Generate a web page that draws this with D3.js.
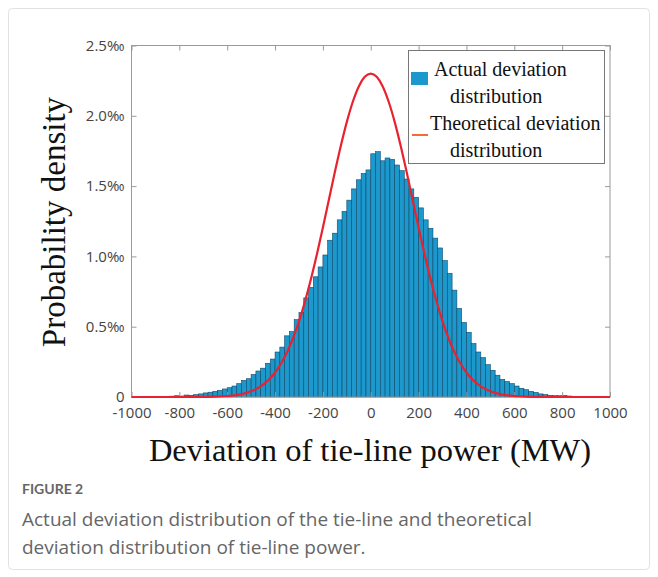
<!DOCTYPE html>
<html>

<head>
  <meta charset="utf-8">
  <title>Tie-line deviation</title>
  <script src="https://d3js.org/d3.v7.min.js"></script>
  <style>
    body { margin: 0; background: #fff; }
  </style>
</head>

<body>
  <div id='view'></div>
  <script>
    // histogram: bins of 20 MW, left edge -880 ... 860
    var binWidth = 20;
    var binStart = d3.range(-880, 880, binWidth);
    // density per bin in per-mille
    var density = [
      0.003, 0.004, 0.006, 0.009, 0.007, 0.014, 0.012, 0.017, 0.022, 0.029,
      0.034, 0.040, 0.047, 0.057, 0.066, 0.078, 0.095, 0.118, 0.130, 0.160,
      0.185, 0.205, 0.240, 0.270, 0.320, 0.355, 0.435, 0.465, 0.550, 0.600,
      0.705, 0.780, 0.855, 0.925, 1.010, 1.115, 1.165, 1.260, 1.320, 1.400,
      1.480, 1.545, 1.590, 1.615,
      1.730, 1.745, 1.680, 1.700, 1.690, 1.650, 1.610, 1.550, 1.480, 1.420,
      1.345, 1.260, 1.200, 1.130, 1.060, 0.970, 0.880, 0.760, 0.630, 0.530,
      0.460, 0.380, 0.320, 0.280, 0.230, 0.190, 0.155, 0.125, 0.110, 0.095,
      0.078, 0.062, 0.052, 0.040, 0.033, 0.022, 0.017, 0.012, 0.010, 0.009,
      0.011, 0.007, 0.005, 0.003
    ];

    // theoretical curve
    var theoX = [-1000, -750, -700, -650, -600, -550, -500, -475, -450, -425, -400, -375, -350, -325, -300,
      -275, -250, -225, -200, -175, -150, -125, -100, -75, -50, -25, 0,
      25, 50, 75, 100, 125, 150, 175, 200, 225, 250, 275, 300, 325, 350, 375, 400,
      425, 450, 475, 500, 550, 600, 650, 700, 750, 1000];
    var theoY = [0, 0, 0.001, 0.0025, 0.007, 0.017, 0.041, 0.060, 0.088, 0.125, 0.174, 0.238, 0.318, 0.418, 0.538,
      0.679, 0.839, 1.016, 1.206, 1.403, 1.600, 1.787, 1.957, 2.100, 2.209, 2.277, 2.300,
      2.277, 2.209, 2.100, 1.957, 1.787, 1.600, 1.403, 1.206, 1.016, 0.839, 0.679, 0.538, 0.418, 0.318, 0.238, 0.174,
      0.125, 0.088, 0.060, 0.041, 0.017, 0.007, 0.0025, 0.001, 0, 0];

    var xTicks = [-1000, -800, -600, -400, -200, 0, 200, 400, 600, 800, 1000];
    var yTicks = [0, 0.5, 1.0, 1.5, 2.0, 2.5];

    var width = 658;
    var height = 577;
    var plotLeft = 131.5, plotRight = 610, plotTop = 45.5, plotBottom = 397;

    var svg = d3.select("#view")
      .append("svg")
      .attr("width", width)
      .attr("height", height);

    svg.append("rect")
      .attr("x", 0).attr("y", 0)
      .attr("width", width).attr("height", height)
      .attr("fill", "#fff");

    // card border
    svg.append("rect")
      .attr("x", 8.5).attr("y", 8.5)
      .attr("width", 641).attr("height", 561)
      .attr("rx", 4)
      .attr("fill", "none")
      .attr("stroke", "#e2e2e2");

    var x = d3.scaleLinear().domain([-1000, 1000]).range([plotLeft, plotRight]);
    var y = d3.scaleLinear().domain([0, 2.5]).range([plotBottom, plotTop]);

    var tickFont = "'Open Sans', 'DejaVu Sans', sans-serif";
    var serif = "'Liberation Serif', 'Times New Roman', serif";

    // bars
    svg.append("g")
      .selectAll("rect")
      .data(binStart)
      .join("rect")
      .attr("x", function (d) { return x(d); })
      .attr("y", function (d, i) { return y(density[i]); })
      .attr("width", function (d) { return x(d + binWidth) - x(d); })
      .attr("height", function (d, i) { return plotBottom - y(density[i]); })
      .attr("fill", "#1c98cc")
      .attr("stroke", "#0f4a6b")
      .attr("stroke-width", 0.6);

    // frame
    svg.append("rect")
      .attr("x", plotLeft).attr("y", plotTop)
      .attr("width", plotRight - plotLeft).attr("height", plotBottom - plotTop)
      .attr("fill", "none")
      .attr("stroke", "#9a9a9a")
      .attr("stroke-width", 1);

    function styleAxis(g) {
      g.select(".domain").remove();
      g.selectAll("line").attr("stroke", "#9a9a9a");
      g.selectAll("text")
        .attr("fill", "#444")
        .style("font-family", tickFont)
        .style("font-size", "15px");
    }

    svg.append("g")
      .attr("transform", "translate(0," + plotBottom + ")")
      .call(d3.axisBottom(x).tickValues(xTicks).tickSizeInner(-5).tickSizeOuter(0).tickPadding(10)
        .tickFormat(function (d) { return String(d); }))
      .call(styleAxis);

    svg.append("g")
      .attr("transform", "translate(0," + plotTop + ")")
      .call(d3.axisTop(x).tickValues(xTicks).tickSizeInner(-5).tickSizeOuter(0).tickFormat(""))
      .call(styleAxis);

    svg.append("g")
      .attr("transform", "translate(" + plotLeft + ",0)")
      .call(d3.axisLeft(y).tickValues(yTicks).tickSizeInner(-5).tickSizeOuter(0).tickPadding(7)
        .tickFormat(function (d) { return d === 0 ? "0" : d3.format(".1f")(d) + "\u2030"; }))
      .call(styleAxis);

    svg.append("g")
      .attr("transform", "translate(" + plotRight + ",0)")
      .call(d3.axisRight(y).tickValues(yTicks).tickSizeInner(-5).tickSizeOuter(0).tickFormat(""))
      .call(styleAxis);

    // theoretical curve
    var line = d3.line()
      .x(function (d, i) { return x(theoX[i]); })
      .y(function (d) { return y(d); })
      .curve(d3.curveMonotoneX);

    svg.append("path")
      .datum(theoY)
      .attr("d", line)
      .attr("fill", "none")
      .attr("stroke", "#e8222e")
      .attr("stroke-width", 2.2);

    // legend
    var lg = svg.append("g");
    lg.append("rect")
      .attr("x", 408.5).attr("y", 50.5)
      .attr("width", 196).attr("height", 113)
      .attr("fill", "#fff")
      .attr("stroke", "#777")
      .attr("stroke-width", 1);
    lg.append("rect")
      .attr("x", 411).attr("y", 72)
      .attr("width", 17).attr("height", 13)
      .attr("fill", "#1c98cc");
    lg.append("line")
      .attr("x1", 412).attr("x2", 428)
      .attr("y1", 135).attr("y2", 135)
      .attr("stroke", "#f26b3a")
      .attr("stroke-width", 2);

    var legendText = [
      ["Actual deviation", 434, 76],
      ["distribution", 450, 103],
      ["Theoretical deviation", 430, 130],
      ["distribution", 450, 157]
    ];
    lg.selectAll("text")
      .data(legendText)
      .join("text")
      .attr("x", function (d) { return d[1]; })
      .attr("y", function (d) { return d[2]; })
      .text(function (d) { return d[0]; })
      .attr("fill", "#111")
      .style("font-family", serif)
      .style("font-size", "20px");

    // axis titles
    svg.append("text")
      .attr("transform", "translate(65,222) rotate(-90)")
      .attr("text-anchor", "middle")
      .text("Probability density")
      .attr("fill", "#111")
      .style("font-family", serif)
      .style("font-size", "33px");

    svg.append("text")
      .attr("x", 370)
      .attr("y", 461)
      .attr("text-anchor", "middle")
      .text("Deviation of tie-line power (MW)")
      .attr("fill", "#111")
      .style("font-family", serif)
      .style("font-size", "32.5px");

    // caption
    svg.append("text")
      .attr("x", 22).attr("y", 494)
      .text("FIGURE 2")
      .attr("fill", "#666")
      .style("font-family", "Lato, 'Open Sans', sans-serif")
      .style("font-weight", "bold")
      .style("font-size", "14px");

    var caption = ["Actual deviation distribution of the tie-line and theoretical",
      "deviation distribution of tie-line power."];
    svg.append("g").selectAll("text")
      .data(caption)
      .join("text")
      .attr("x", 22)
      .attr("y", function (d, i) { return 526 + i * 28; })
      .text(function (d) { return d; })
      .attr("fill", "#666")
      .style("font-family", "'Open Sans', Lato, sans-serif")
      .style("font-size", "19px");
  </script>
</body>

</html>
